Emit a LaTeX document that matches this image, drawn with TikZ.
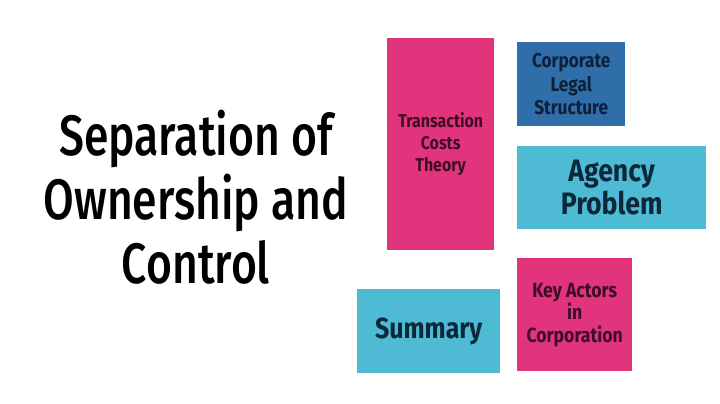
\documentclass[tikz,border=0pt]{standalone}
\usepackage{fontspec}
\setmainfont{Fira Sans}
\newfontfamily\titlefont{Fira Sans Medium}[FakeStretch=0.78]
\newfontfamily\boxfont{Fira Sans}[FakeStretch=0.86]
\definecolor{pinkc}{RGB}{226,52,124}
\definecolor{bluec}{RGB}{47,110,168}
\definecolor{cyanc}{RGB}{79,186,212}
\definecolor{txtpink}{RGB}{62,12,40}
\definecolor{txtblue}{RGB}{14,32,58}
\definecolor{txtcyan}{RGB}{10,40,58}
\tikzset{
  x=1pt,y=1pt,
  card/.style={anchor=north west, inner sep=0pt, align=center, font=\boxfont\bfseries},
  pinkcard/.style={card, fill=pinkc, text=txtpink},
  bluecard/.style={card, fill=bluec, text=txtblue},
  cyancard/.style={card, fill=cyanc, text=txtcyan},
}
\begin{document}
\begin{tikzpicture}
\useasboundingbox[fill=white] (0,0) rectangle (720,-404);
\node[align=center, font={\titlefont\fontsize{57}{64}\selectfont}, text=black] (title) at (196,-197) {Separation of\\Ownership and\\Control};
\node[pinkcard, minimum width=107, minimum height=212, font={\boxfont\bfseries\fontsize{18.5}{22}\selectfont}] (tct) at (387,-38) {Transaction\\Costs\\Theory};
\node[bluecard, minimum width=108, minimum height=84, font={\boxfont\bfseries\fontsize{20}{23.5}\selectfont}] (cls) at (517,-42) {Corporate\\Legal\\Structure};
\node[cyancard, minimum width=189, minimum height=83, font={\boxfont\bfseries\fontsize{31}{33}\selectfont}] (agp) at (517,-146) {Agency\\Problem};
\node[pinkcard, minimum width=115, minimum height=113, font={\boxfont\bfseries\fontsize{20.5}{22.5}\selectfont}] (kac) at (517,-258) {Key Actors\\in\\Corporation};
\node[cyancard, minimum width=143, minimum height=84, font={\boxfont\bfseries\fontsize{29}{32}\selectfont}] (sum) at (357,-289) {Summary};
\end{tikzpicture}
\end{document}
